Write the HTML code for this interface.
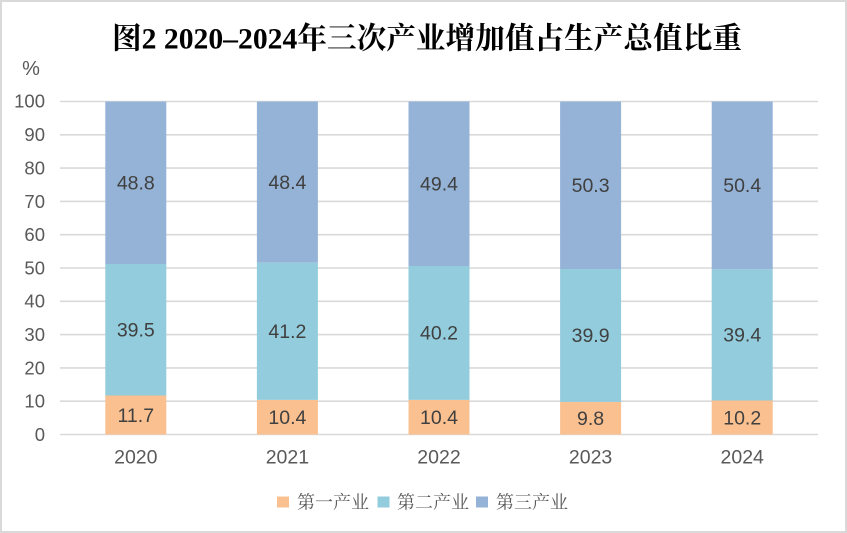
<!DOCTYPE html>
<html>
<head>
<meta charset="utf-8">
<style>
html,body{margin:0;padding:0;background:#fff;}
svg{display:block;}
</style>
</head>
<body>
<svg width="847" height="533" viewBox="0 0 847 533" xmlns="http://www.w3.org/2000/svg">
  <rect x="0" y="0" width="847" height="533" fill="#ffffff"/>
  <rect x="1" y="1" width="845" height="531" fill="none" stroke="#d9d9d9" stroke-width="2"/>

  <!-- Title -->
  <text x="427" y="48.5" text-anchor="middle" textLength="630" lengthAdjust="spacingAndGlyphs" font-family="'Liberation Serif','Noto Serif CJK SC',serif" font-weight="bold" font-size="30" fill="#000">图2 2020–2024年三次产业增加值占生产总值比重</text>

  <!-- % unit -->
  <text x="31" y="75" text-anchor="middle" font-family="'Liberation Sans','Noto Sans CJK SC',sans-serif" font-size="20" fill="#595959">%</text>

  <!-- gridlines -->
  <g stroke="#d9d9d9" stroke-width="1.6">
    <line x1="60" x2="818" y1="101.5" y2="101.5"/>
    <line x1="60" x2="818" y1="134.8" y2="134.8"/>
    <line x1="60" x2="818" y1="168.1" y2="168.1"/>
    <line x1="60" x2="818" y1="201.4" y2="201.4"/>
    <line x1="60" x2="818" y1="234.7" y2="234.7"/>
    <line x1="60" x2="818" y1="268.0" y2="268.0"/>
    <line x1="60" x2="818" y1="301.3" y2="301.3"/>
    <line x1="60" x2="818" y1="334.6" y2="334.6"/>
    <line x1="60" x2="818" y1="367.9" y2="367.9"/>
    <line x1="60" x2="818" y1="401.2" y2="401.2"/>
    <line x1="60" x2="818" y1="434.5" y2="434.5"/>
  </g>

  <!-- tick labels -->
  <g font-family="'Liberation Sans',sans-serif" font-size="18.5" fill="#595959" text-anchor="end">
    <text x="45" y="107.5">100</text>
    <text x="45" y="141.2">90</text>
    <text x="45" y="174.5">80</text>
    <text x="45" y="207.8">70</text>
    <text x="45" y="241.1">60</text>
    <text x="45" y="274.4">50</text>
    <text x="45" y="307.7">40</text>
    <text x="45" y="341.0">30</text>
    <text x="45" y="374.3">20</text>
    <text x="45" y="407.6">10</text>
    <text x="45" y="440.9">0</text>
  </g>

  <!-- bars -->
  <rect x="105.3" y="395.5" width="61" height="39" fill="#fac090"/>
  <rect x="105.3" y="264.0" width="61" height="131.5" fill="#93cddd"/>
  <rect x="105.3" y="101.5" width="61" height="162.5" fill="#95b3d7"/>

  <rect x="256.9" y="399.9" width="61" height="34.6" fill="#fac090"/>
  <rect x="256.9" y="262.7" width="61" height="137.2" fill="#93cddd"/>
  <rect x="256.9" y="101.5" width="61" height="161.2" fill="#95b3d7"/>

  <rect x="408.5" y="399.9" width="61" height="34.6" fill="#fac090"/>
  <rect x="408.5" y="266.0" width="61" height="133.9" fill="#93cddd"/>
  <rect x="408.5" y="101.5" width="61" height="164.5" fill="#95b3d7"/>

  <rect x="560.1" y="401.9" width="61" height="32.6" fill="#fac090"/>
  <rect x="560.1" y="269.0" width="61" height="132.9" fill="#93cddd"/>
  <rect x="560.1" y="101.5" width="61" height="167.5" fill="#95b3d7"/>

  <rect x="711.7" y="400.5" width="61" height="34" fill="#fac090"/>
  <rect x="711.7" y="269.3" width="61" height="131.2" fill="#93cddd"/>
  <rect x="711.7" y="101.5" width="61" height="167.8" fill="#95b3d7"/>

  <!-- data labels -->
  <g font-family="'Liberation Sans',sans-serif" font-size="19.5" fill="#404040" text-anchor="middle">
    <text x="135.8" y="189.5">48.8</text>
    <text x="135.8" y="336.6">39.5</text>
    <text x="135.8" y="421.8">11.7</text>

    <text x="287.4" y="188.9">48.4</text>
    <text x="287.4" y="338.1">41.2</text>
    <text x="287.4" y="424.0">10.4</text>

    <text x="439" y="190.6">49.4</text>
    <text x="439" y="339.7">40.2</text>
    <text x="439" y="424.0">10.4</text>

    <text x="590.6" y="192.1">50.3</text>
    <text x="590.6" y="342.2">39.9</text>
    <text x="590.6" y="425.0">9.8</text>

    <text x="742.2" y="192.2">50.4</text>
    <text x="742.2" y="341.7">39.4</text>
    <text x="742.2" y="424.3">10.2</text>
  </g>

  <!-- category labels -->
  <g font-family="'Liberation Sans',sans-serif" font-size="19.5" fill="#595959" text-anchor="middle">
    <text x="135.8" y="463.7">2020</text>
    <text x="287.4" y="463.7">2021</text>
    <text x="439" y="463.7">2022</text>
    <text x="590.6" y="463.7">2023</text>
    <text x="742.2" y="463.7">2024</text>
  </g>

  <!-- legend -->
  <rect x="277" y="496.5" width="12" height="11" fill="#fac090"/>
  <text x="297" y="508.5" textLength="72" lengthAdjust="spacingAndGlyphs" font-family="'Liberation Serif','Noto Serif CJK SC',serif" font-size="18" fill="#595959">第一产业</text>
  <rect x="377.5" y="496.5" width="12" height="11" fill="#93cddd"/>
  <text x="397" y="508.5" textLength="72" lengthAdjust="spacingAndGlyphs" font-family="'Liberation Serif','Noto Serif CJK SC',serif" font-size="18" fill="#595959">第二产业</text>
  <rect x="476" y="496.5" width="12" height="11" fill="#95b3d7"/>
  <text x="496" y="508.5" textLength="72" lengthAdjust="spacingAndGlyphs" font-family="'Liberation Serif','Noto Serif CJK SC',serif" font-size="18" fill="#595959">第三产业</text>
</svg>
</body>
</html>
